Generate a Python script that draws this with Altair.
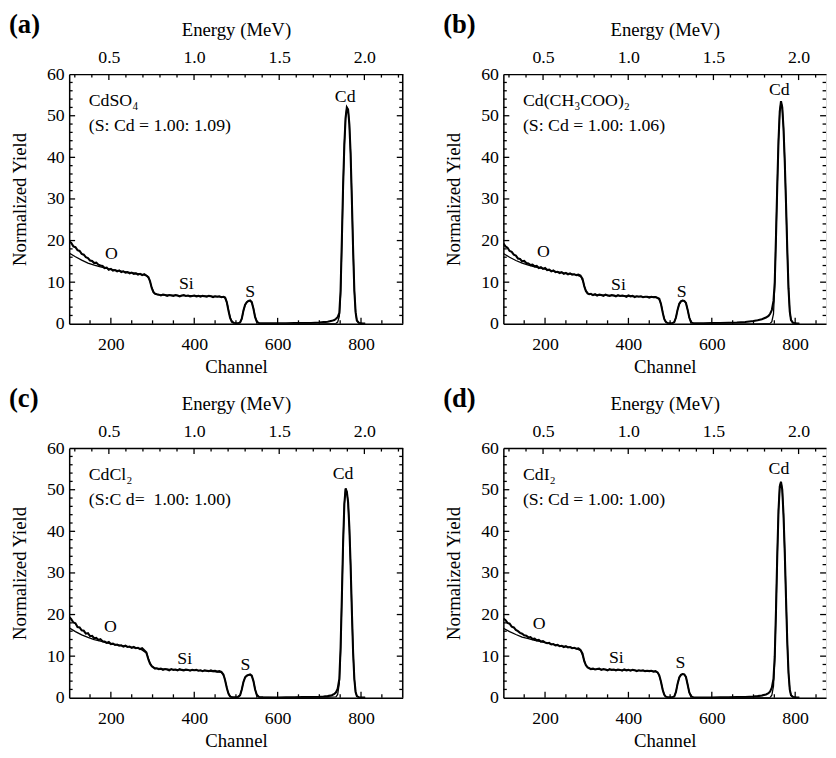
import altair as alt
import pandas as pd

FONT = "Liberation Serif"

# ---------------- measured channel grid (experimental spectra) ----------------
CH = [100, 105, 110, 115, 120, 125, 130, 135, 140, 145, 150, 155, 160, 165, 170, 175, 180, 185, 190, 195,
      200, 205, 210, 215, 220, 225, 230, 235, 240, 245, 250, 255, 260, 265, 270, 275, 280, 285, 290,
      294, 298, 302, 306, 310,
      315, 320, 325, 330, 335, 340, 345, 350, 355, 360, 365, 370, 375, 380, 385, 390, 395, 400, 405, 410,
      415, 420, 425, 430, 435, 440, 445, 450, 455, 460, 465, 470,
      474, 478, 482, 486, 490, 495, 500, 505, 510, 514, 518, 522, 526, 530, 534, 538, 542, 546, 550, 555,
      565, 580, 600, 620, 640, 660, 680, 700, 710, 720, 730, 736, 740, 744, 748,
      751, 754, 757, 760, 763, 766, 769, 772, 775, 778, 781, 784, 787, 790, 795, 800, 810]

EXP_A = [19.8, 19.4, 18.6, 18.4, 17.7, 17.5, 16.8, 16.6, 16.0, 15.8, 15.2, 15.1, 14.6, 14.7, 14.2, 14.0, 13.9, 13.4, 13.5, 13.0,
         13.2, 12.8, 12.9, 12.6, 12.8, 12.4, 12.6, 12.3, 12.4, 12.1, 12.3, 12.0, 12.1, 11.8, 12.0, 11.7, 11.9, 11.6, 11.2,
         10.2, 8.6, 7.6, 7.2, 7.1,
         7.0, 6.8, 7.0, 6.9, 6.7, 6.9, 6.8, 6.7, 6.9, 6.8, 6.6, 6.8, 6.9, 6.7, 6.8, 6.6, 6.7, 6.8, 6.6, 6.7,
         6.5, 6.7, 6.6, 6.5, 6.7, 6.6, 6.4, 6.6, 6.5, 6.6, 6.4, 6.5,
         6.3, 5.2, 3.2, 1.4, 0.5, 0.2, 0.1, 0.1, 0.3, 1.2, 3.2, 4.6, 5.2, 5.5, 5.6, 5.2, 3.6, 1.6, 0.5, 0.1,
         0.1, 0.1, 0.1, 0.1, 0.15, 0.2, 0.2, 0.3, 0.4, 0.5, 0.7, 0.9, 1.2, 1.6, 2.6,
         8, 20, 33, 43, 49.5, 52, 51.5, 48, 41, 30, 18, 8, 2.8, 0.8, 0.2, 0.1, 0.05]

EXP_B = [19.3, 18.6, 18.3, 17.5, 17.3, 16.6, 16.4, 15.7, 15.6, 15.0, 15.1, 14.6, 14.5, 14.1, 14.2, 13.8, 13.9, 13.4, 13.6, 13.2,
         13.4, 12.9, 13.0, 12.6, 12.8, 12.4, 12.5, 12.2, 12.4, 12.0, 12.2, 11.9, 12.1, 11.8, 11.9, 11.7, 11.8, 11.6, 10.8,
         9.0, 7.9, 7.3, 7.1, 7.2,
         6.9, 7.1, 6.8, 7.0, 6.9, 6.7, 7.0, 6.8, 6.7, 6.9, 6.8, 6.6, 6.9, 6.7, 6.8, 6.7, 6.5, 6.8, 6.6, 6.7,
         6.4, 6.6, 6.5, 6.6, 6.4, 6.5, 6.5, 6.3, 6.5, 6.4, 6.4, 6.2,
         6.0, 4.8, 2.8, 1.1, 0.4, 0.1, 0.1, 0.1, 0.4, 1.5, 3.4, 4.8, 5.4, 5.6, 5.5, 5.0, 3.4, 1.5, 0.4, 0.1,
         0.1, 0.1, 0.15, 0.2, 0.25, 0.3, 0.45, 0.65, 0.85, 1.1, 1.5, 1.9, 2.4, 3.3, 5.5,
         10, 21, 33, 44, 51, 53.5, 52, 47, 39, 29, 18, 8.5, 3, 0.9, 0.2, 0.1, 0.05]

EXP_C = [19.4, 18.9, 18.1, 17.9, 17.0, 16.9, 16.2, 16.1, 15.4, 15.5, 14.8, 14.9, 14.3, 14.4, 13.9, 14.1, 13.6, 13.5, 13.2, 13.4,
         12.9, 13.0, 12.7, 12.8, 12.5, 12.6, 12.3, 12.5, 12.2, 12.3, 12.0, 12.2, 11.9, 12.0, 11.7, 11.9, 11.4, 10.9, 9.2,
         8.2, 7.6, 7.3, 7.0, 7.1,
         6.9, 7.0, 6.7, 6.9, 6.8, 6.6, 6.9, 6.7, 6.8, 6.6, 6.9, 6.7, 6.6, 6.8, 6.7, 6.5, 6.7, 6.6, 6.7, 6.5,
         6.6, 6.4, 6.6, 6.5, 6.4, 6.6, 6.4, 6.5, 6.3, 6.4, 6.2, 5.6,
         4.2, 2.4, 1.0, 0.3, 0.1, 0.1, 0.1, 0.2, 0.6, 2.0, 3.8, 4.9, 5.3, 5.5, 5.6, 5.3, 4.0, 2.0, 0.7, 0.2,
         0.1, 0.05, 0.05, 0.1, 0.1, 0.15, 0.2, 0.25, 0.3, 0.4, 0.6, 0.9, 1.3, 2.2, 4.5,
         12, 24, 37, 46.5, 50.3, 49.5, 47, 41, 32, 21, 11, 4.5, 1.4, 0.4, 0.1, 0.05, 0.05]

EXP_D = [19.0, 18.7, 18.0, 17.8, 17.1, 16.9, 16.3, 16.0, 15.6, 15.4, 15.0, 14.9, 14.5, 14.6, 14.1, 14.2, 13.8, 13.9, 13.5, 13.6,
         13.3, 13.1, 13.2, 12.8, 12.9, 12.6, 12.7, 12.4, 12.5, 12.2, 12.4, 12.1, 12.2, 11.9, 12.0, 11.8, 11.9, 11.5, 10.6,
         8.8, 7.8, 7.3, 7.1, 6.9,
         7.0, 6.8, 6.9, 7.0, 6.7, 6.9, 6.8, 6.6, 6.9, 6.7, 6.8, 6.6, 6.8, 6.7, 6.5, 6.8, 6.6, 6.7, 6.5, 6.7,
         6.6, 6.4, 6.6, 6.5, 6.6, 6.4, 6.5, 6.4, 6.5, 6.3, 6.4, 6.1,
         5.4, 3.9, 2.0, 0.7, 0.2, 0.1, 0.1, 0.1, 0.3, 1.4, 3.4, 4.9, 5.5, 5.7, 5.6, 5.0, 3.2, 1.3, 0.4, 0.1,
         0.05, 0.05, 0.05, 0.1, 0.1, 0.15, 0.2, 0.3, 0.4, 0.55, 0.8, 1.1, 1.5, 2.4, 4.6,
         10, 21, 34, 45, 50.8, 51.9, 50, 44, 35, 24, 13.5, 6, 2, 0.6, 0.15, 0.05, 0.05]

# ---------------- simulated spectra ----------------
SIM_CH = [100, 115, 130, 145, 160, 175, 190, 210, 240, 270,
          286, 292, 298, 304, 312, 360, 420, 466, 472, 476,
          480, 484, 488, 494, 504, 510, 514, 518, 522, 526,
          530, 534, 538, 542, 546, 550, 556, 600, 700, 740,
          744, 748, 751, 754, 757, 760, 763, 766, 769, 772,
          775, 778, 781, 784, 787, 790, 795, 810]

SIM_A = [17.0, 16.1, 15.3, 14.6, 14.1, 13.7, 13.3, 12.9, 12.4, 12.0,
         11.6, 10.8, 8.7, 7.4, 7.0, 6.8, 6.7, 6.5, 6.4, 5.9,
         4.4, 2.4, 1.0, 0.2, 0.05, 0.3, 1.2, 3.1, 4.5, 5.2,
         5.5, 5.5, 5.1, 3.7, 1.7, 0.6, 0.1, 0.0, 0.0, 0.1,
         0.4, 1.8, 7, 19, 33, 43, 49.5, 52, 51.5, 48,
         41, 30, 18, 8, 2.8, 0.8, 0.15, 0.0]

SIM_B = [16.9, 16.0, 15.2, 14.6, 14.1, 13.7, 13.4, 12.9, 12.3, 11.9,
         11.3, 9.9, 7.9, 7.2, 7.0, 6.8, 6.6, 6.4, 6.1, 5.5,
         4.0, 2.0, 0.7, 0.15, 0.05, 0.4, 1.5, 3.4, 4.8, 5.4,
         5.6, 5.5, 5.0, 3.4, 1.5, 0.4, 0.1, 0.0, 0.0, 0.1,
         0.5, 2.4, 9, 21, 33, 44, 51, 53.3, 52, 47,
         39, 29, 18, 8.5, 3, 0.9, 0.2, 0.0]

SIM_C = [16.8, 15.9, 15.1, 14.5, 14.0, 13.6, 13.2, 12.8, 12.3, 11.8,
         10.7, 8.8, 7.5, 7.2, 7.0, 6.7, 6.5, 6.1, 5.0, 3.4,
         1.7, 0.6, 0.2, 0.05, 0.1, 0.6, 2.0, 3.8, 4.9, 5.3,
         5.5, 5.5, 5.2, 4.0, 2.0, 0.7, 0.15, 0.0, 0.0, 0.2,
         0.8, 3.5, 11, 24, 37, 46.5, 50.3, 49.5, 47, 41,
         32, 21, 11, 4.5, 1.4, 0.4, 0.1, 0.0]

SIM_D = [16.7, 15.9, 15.2, 14.6, 14.2, 13.8, 13.5, 13.0, 12.4, 12.0,
         11.3, 9.6, 7.9, 7.2, 6.9, 6.7, 6.6, 6.3, 5.8, 4.6,
         3.0, 1.3, 0.4, 0.1, 0.05, 0.3, 1.4, 3.4, 4.9, 5.5,
         5.7, 5.6, 5.0, 3.2, 1.3, 0.4, 0.1, 0.0, 0.0, 0.1,
         0.6, 2.8, 9, 21, 34, 45, 50.8, 51.9, 50, 44,
         35, 24, 13.5, 6, 2, 0.6, 0.15, 0.0]

# ---------------- annotations ----------------
PANEL_KEYS = ["(a)", "(b)", "(c)", "(d)"]
COMPOUNDS = ["CdSO\u2084", "Cd(CH\u2083COO)\u2082", "CdCl\u2082", "CdI\u2082"]
RATIOS = ["(S: Cd = 1.00: 1.09)", "(S: Cd = 1.00: 1.06)", "(S:C d=\u00a0 1.00: 1.00)", "(S: Cd = 1.00: 1.00)"]
ELEMENTS = ["O", "Si", "S", "Cd"]
ELEM_CH = [[201, 381, 534, 762], [196, 376, 528, 762], [199, 377, 523, 757], [186, 371, 525, 761]]
ELEM_Y = [[16.8, 9.6, 7.6, 54.6], [17.2, 9.4, 7.6, 56.1], [17.0, 9.4, 7.9, 53.8], [17.8, 9.6, 8.3, 54.9]]

# ---------------- axes ticks ----------------
CH_LABELS = [200, 400, 600, 800]
CH_MINOR = [150, 250, 300, 350, 450, 500, 550, 650, 700, 750, 850]
Y_LABELS = [0, 10, 20, 30, 40, 50, 60]
Y_MAJOR = [10, 20, 30, 40, 50]
Y_MINOR = [2, 4, 6, 8, 12, 14, 16, 18, 22, 24, 26, 28, 32, 34, 36, 38, 42, 44, 46, 48, 52, 54, 56, 58]
E_LABELS = [0.5, 1.0, 1.5, 2.0]
E_MINOR = [0.3, 0.4, 0.6, 0.7, 0.8, 0.9, 1.1, 1.2, 1.3, 1.4, 1.6, 1.7, 1.8, 1.9, 2.1, 2.2]

H = 253
LEFT_W, RIGHT_W = 338, 327
CH_DOM_L, CH_DOM_R = [100, 900], [100, 874]
E_DOM_L, E_DOM_R = [0.267, 2.225], [0.267, 2.161]


def panel(i, exp, sim, width, ch_dom, e_dom, right_border):
    xs = alt.Scale(domain=ch_dom, nice=False, zero=False)
    ys = alt.Scale(domain=[0, 60], nice=False, zero=False)
    es = alt.Scale(domain=e_dom, nice=False, zero=False)
    x_axis = alt.Axis(title="Channel", values=CH_LABELS, ticks=False, tickSize=0, grid=False,
                      domainColor="black", domainWidth=1.5, labelFont=FONT, labelFontSize=18,
                      labelColor="black", labelPadding=12, titleFont=FONT, titleFontSize=19,
                      titleFontWeight="normal", titleColor="black", titlePadding=4, labelFlush=False)
    y_axis = alt.Axis(title="Normalized Yield", values=Y_LABELS, ticks=False, tickSize=0, grid=False,
                      domainColor="black", domainWidth=1.5, labelFont=FONT, labelFontSize=18,
                      labelColor="black", labelPadding=5, titleFont=FONT, titleFontSize=19,
                      titleFontWeight="normal", titleColor="black", titlePadding=17, labelFlush=False)
    e_axis = alt.Axis(orient="top", title="Energy (MeV)", values=E_LABELS, format=".1f", ticks=False,
                      tickSize=0, grid=False, domainColor="black", domainWidth=1.5, labelFont=FONT,
                      labelFontSize=18, labelColor="black", labelPadding=8, titleFont=FONT,
                      titleFontSize=19, titleFontWeight="normal", titleColor="black", titlePadding=9,
                      labelFlush=False)

    exp_df = pd.DataFrame({"ch": CH, "y": exp})
    sim_df = pd.DataFrame({"ch": SIM_CH, "y": sim})
    lo, hi = ch_dom
    chmaj = pd.DataFrame({"ch": [c for c in CH_LABELS if lo < c < hi]})
    chmin = pd.DataFrame({"ch": [c for c in CH_MINOR if lo < c < hi]})
    ymaj = pd.DataFrame({"y": Y_MAJOR})
    ymin = pd.DataFrame({"y": Y_MINOR})
    emaj = pd.DataFrame({"e": E_LABELS})
    emin = pd.DataFrame({"e": [e for e in E_MINOR if e < e_dom[1]]})

    sim_line = alt.Chart(sim_df).mark_line(color="black", strokeWidth=1.3, clip=True).encode(
        x=alt.X("ch:Q", scale=xs, axis=x_axis), y=alt.Y("y:Q", scale=ys, axis=y_axis))
    exp_line = alt.Chart(exp_df).mark_line(color="black", strokeWidth=2.1, clip=True).encode(
        x="ch:Q", y="y:Q")

    rule = dict(color="black", strokeWidth=1.3)
    bmaj = alt.Chart(chmaj).mark_rule(**rule).encode(x="ch:Q", y=alt.value(H), y2=alt.value(H - 6))
    bmin = alt.Chart(chmin).mark_rule(**rule).encode(x="ch:Q", y=alt.value(H), y2=alt.value(H - 3.5))
    lmaj = alt.Chart(ymaj).mark_rule(**rule).encode(y="y:Q", x=alt.value(0), x2=alt.value(6))
    lmin = alt.Chart(ymin).mark_rule(**rule).encode(y="y:Q", x=alt.value(0), x2=alt.value(3.5))
    rmaj = alt.Chart(ymaj).mark_rule(**rule).encode(y="y:Q", x=alt.value(width), x2=alt.value(width - 6))
    rmin = alt.Chart(ymin).mark_rule(**rule).encode(y="y:Q", x=alt.value(width), x2=alt.value(width - 3.5))

    elem_df = pd.DataFrame({"ch": ELEM_CH[i], "y": ELEM_Y[i], "t": ELEMENTS})
    elem_txt = alt.Chart(elem_df).mark_text(font=FONT, fontSize=18, color="black", align="center",
                                            baseline="middle").encode(x="ch:Q", y="y:Q", text="t:N")
    comp_df = pd.DataFrame({"ch": [147, 147], "y": [53.5, 47.4], "t": [COMPOUNDS[i], RATIOS[i]]})
    comp_txt = alt.Chart(comp_df).mark_text(font=FONT, fontSize=18, color="black", align="left",
                                            baseline="middle").encode(x="ch:Q", y="y:Q", text="t:N")

    layers = [sim_line, exp_line, bmaj, bmin, lmaj, lmin, rmaj, rmin, elem_txt, comp_txt]
    if right_border:
        border = alt.Chart(pd.DataFrame({"k": [0]})).mark_rule(color="black", strokeWidth=1.5).encode(
            x=alt.value(width), y=alt.value(0), y2=alt.value(H))
        layers.append(border)
    ch_layer = alt.layer(*layers)

    e_maj = alt.Chart(emaj).mark_rule(**rule).encode(
        x=alt.X("e:Q", scale=es, axis=e_axis), y=alt.value(0), y2=alt.value(6))
    e_min = alt.Chart(emin).mark_rule(**rule).encode(x="e:Q", y=alt.value(0), y2=alt.value(3.5))
    e_layer = alt.layer(e_maj, e_min)

    return alt.layer(ch_layer, e_layer).resolve_scale(x="independent").properties(
        width=width, height=H,
        title=alt.TitleParams(PANEL_KEYS[i], anchor="start", frame="group", font=FONT, fontSize=27,
                              fontWeight="bold", color="black", dx=-61, dy=18, offset=0))


pa = panel(0, EXP_A, SIM_A, LEFT_W, CH_DOM_L, E_DOM_L, True)
pb = panel(1, EXP_B, SIM_B, RIGHT_W, CH_DOM_R, E_DOM_R, False)
pc = panel(2, EXP_C, SIM_C, LEFT_W, CH_DOM_L, E_DOM_L, True)
pd_ = panel(3, EXP_D, SIM_D, RIGHT_W, CH_DOM_R, E_DOM_R, False)

chart = alt.concat(pa, pb, pc, pd_, columns=2,
                   spacing=alt.RowColnumber(row=126, column=102)).properties(
    bounds="flush", padding={"top": -3, "left": 0, "right": 0, "bottom": 0}
).configure_view(stroke=None).configure(background="white")

chart.save("out.html", embed_options={"renderer": "svg", "actions": False})
